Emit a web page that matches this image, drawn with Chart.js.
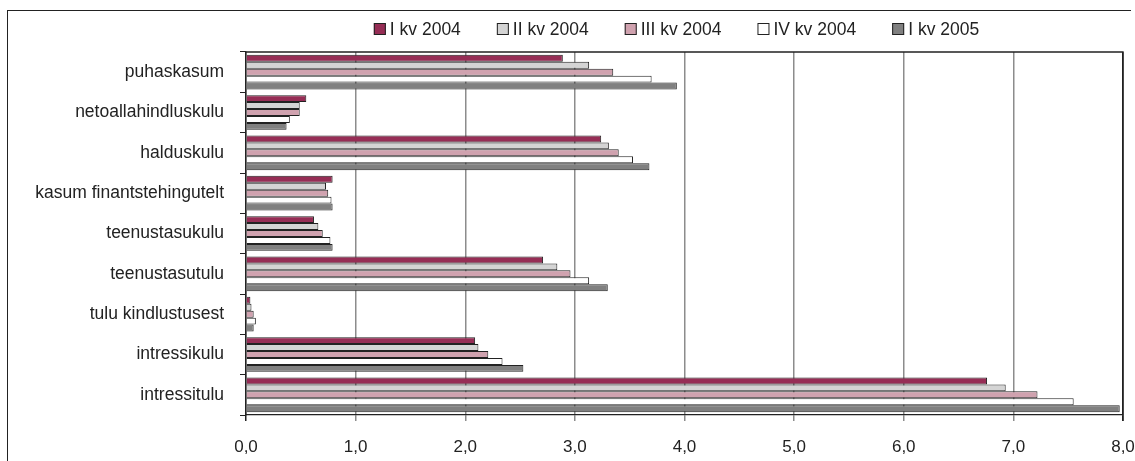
<!DOCTYPE html>
<html>
<head>
<meta charset="utf-8">
<script src="https://cdn.jsdelivr.net/npm/chart.js@4.4.1/dist/chart.umd.min.js"></script>
<style>
  html, body { margin: 0; padding: 0; background: #fff; overflow: hidden; }
  #frame { position: absolute; left: 7px; top: 10px; width: 1123px; height: 460px;
           border-top: 1px solid #222; border-left: 1px solid #222; }
  #wrap { position: absolute; left: 0; top: 0; width: 1135px; height: 461px; }
</style>
</head>
<body>
<div id="frame"></div>
<div id="wrap"><canvas id="myChart"></canvas></div>
<script>
const categories = [
  "puhaskasum",
  "netoallahindluskulu",
  "halduskulu",
  "kasum finantstehingutelt",
  "teenustasukulu",
  "teenustasutulu",
  "tulu kindlustusest",
  "intressikulu",
  "intressitulu",
];

const seriesNames = ["I kv 2004", "II kv 2004", "III kv 2004", "IV kv 2004", "I kv 2005"];

// values, same order as categories
const q1_2004 = [2.89, 0.55, 3.24, 0.79, 0.62, 2.71, 0.04, 2.09, 6.76];
const q2_2004 = [3.13, 0.49, 3.31, 0.73, 0.66, 2.84, 0.05, 2.12, 6.93];
const q3_2004 = [3.35, 0.49, 3.40, 0.75, 0.70, 2.96, 0.07, 2.21, 7.22];
const q4_2004 = [3.70, 0.40, 3.53, 0.78, 0.77, 3.13, 0.09, 2.34, 7.55];
const q1_2005 = [3.93, 0.37, 3.68, 0.79, 0.79, 3.30, 0.07, 2.53, 7.97];

const xTickLabels = ["0,0", "1,0", "2,0", "3,0", "4,0", "5,0", "6,0", "7,0", "8,0"];

const seriesColors = ["#962d55", "#d4d4d4", "#d0a2af", "#ffffff", "#808080"];

const FONT = '"Liberation Sans", Arial, sans-serif';

// legend drawn by hand so box/text spacing matches the original
const quarterLegend = {
  id: "quarterLegend",
  afterDraw(chart) {
    const ctx = chart.ctx;
    const box = 12, gapText = 4, gapItem = 36;
    ctx.save();
    ctx.font = "17.5px " + FONT;
    const items = chart.data.datasets.map((ds) => ({
      label: ds.label,
      color: ds.backgroundColor,
      w: box + gapText + ctx.measureText(ds.label).width,
    }));
    const total = items.reduce((s, it) => s + it.w, 0) + gapItem * (items.length - 1);
    let x = (chart.chartArea.left + chart.chartArea.right) / 2 - 8 - total / 2;
    const y = 29;
    items.forEach((it) => {
      ctx.fillStyle = it.color;
      ctx.fillRect(x, y - box / 2, box, box);
      ctx.strokeStyle = "#222";
      ctx.lineWidth = 1;
      ctx.strokeRect(x + 0.5, y - box / 2 + 0.5, box - 1, box - 1);
      ctx.fillStyle = "#222";
      ctx.textBaseline = "middle";
      ctx.fillText(it.label, x + box + gapText, y + 1);
      x += it.w + gapItem;
    });
    ctx.restore();
  },
};

// black top and right edge of the plot area
const plotFrame = {
  id: "plotFrame",
  afterDraw(chart) {
    const { ctx, chartArea: a } = chart;
    ctx.save();
    ctx.strokeStyle = "#222";
    ctx.lineWidth = 1.3;
    ctx.beginPath();
    ctx.moveTo(a.left, a.top);
    ctx.lineTo(a.right, a.top);
    ctx.lineTo(a.right, a.bottom + 6);
    ctx.stroke();
    ctx.restore();
  },
};

const allSeries = [q1_2004, q2_2004, q3_2004, q4_2004, q1_2005];

const ctx = document.getElementById("myChart").getContext("2d");

new Chart(ctx, {
  type: "bar",
  data: {
    labels: categories,
    datasets: allSeries.map((values, i) => ({
      label: seriesNames[i],
      data: values,
      backgroundColor: seriesColors[i],
      borderColor: "#222",
      borderWidth: 1,
      barPercentage: 1,
      categoryPercentage: 0.86,
    })),
  },
  options: {
    indexAxis: "y",
    responsive: true,
    maintainAspectRatio: false,
    animation: false,
    layout: { padding: { top: 52, right: 12, bottom: 0, left: 0 } },
    plugins: {
      legend: { display: false },
      tooltip: { enabled: false },
    },
    scales: {
      x: {
        min: 0,
        max: 8,
        ticks: {
          stepSize: 1,
          color: "#222",
          font: { family: FONT, size: 17 },
          padding: 16,
          callback: (value) => xTickLabels[value],
        },
        grid: {
          color: (c) => (c.index === 0 || c.index === 8 ? "#222" : "#8c8c8c"),
          lineWidth: 1.5,
          tickLength: 6,
        },
        border: { color: "#222", width: 1.3 },
        afterFit: (scale) => {
          scale.height = 46;
          scale.paddingLeft = 0;
          scale.paddingRight = 0;
        },
      },
      y: {
        ticks: {
          color: "#222",
          font: { family: FONT, size: 17.5 },
          padding: 16,
        },
        grid: { drawOnChartArea: false, tickLength: 6, color: "#222", lineWidth: 1 },
        border: { color: "#222", width: 1.3 },
        afterFit: (scale) => { scale.width = 246; },
      },
    },
  },
  plugins: [quarterLegend, plotFrame],
});
</script>
</body>
</html>
